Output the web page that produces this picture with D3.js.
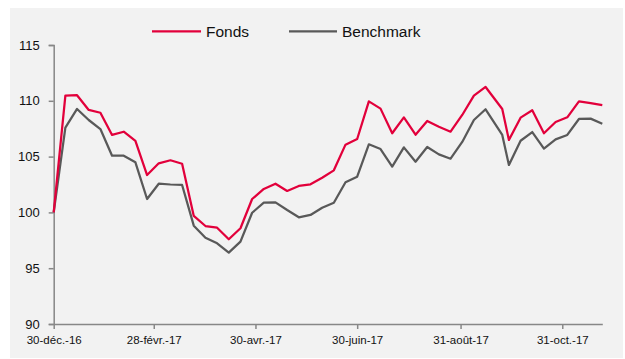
<!DOCTYPE html>
<html>
<head>
<meta charset="utf-8">
<script src="https://cdn.jsdelivr.net/npm/d3@7"></script>
<style>
  html, body { margin: 0; padding: 0; background: #ffffff; }
  svg { display: block; }
</style>
</head>
<body>
<svg id="chart" width="625" height="359"></svg>
<script>
// Weekly index values, base 100 on 30 Dec 2016
const dates = [
  "2016-12-30","2017-01-06","2017-01-13","2017-01-20","2017-01-27",
  "2017-02-03","2017-02-10","2017-02-17","2017-02-24","2017-03-03",
  "2017-03-10","2017-03-17","2017-03-24","2017-03-31","2017-04-07",
  "2017-04-14","2017-04-21","2017-04-28","2017-05-05","2017-05-12",
  "2017-05-19","2017-05-26","2017-06-02","2017-06-09","2017-06-16",
  "2017-06-23","2017-06-30","2017-07-07","2017-07-14","2017-07-21",
  "2017-07-28","2017-08-04","2017-08-11","2017-08-18","2017-08-25",
  "2017-09-01","2017-09-08","2017-09-15","2017-09-25","2017-09-29",
  "2017-10-06","2017-10-13","2017-10-20","2017-10-27","2017-11-03",
  "2017-11-10","2017-11-17","2017-11-24"
];

const fonds = [
  100.00, 110.46, 110.50, 109.18, 108.93,
  106.94, 107.23, 106.40, 103.35, 104.40,
  104.67, 104.36,  99.68,  98.78,  98.63,
   97.59,  98.58, 101.20, 102.10, 102.57,
  101.92, 102.37, 102.52, 103.10, 103.77,
  106.07, 106.58, 109.95, 109.30, 107.09,
  108.52, 106.96, 108.19, 107.68, 107.23,
  108.73, 110.46, 111.24, 109.27, 106.49,
  108.49, 109.15, 107.09, 108.10, 108.52,
  109.95, 109.80, 109.62
];

const benchmark = [
  100.00, 107.60, 109.27, 108.28, 107.47,
  105.08, 105.08, 104.49, 101.20, 102.57,
  102.50, 102.46,  98.81,  97.73,  97.23,
   96.39,  97.38,  99.97, 100.87, 100.90,
  100.21,  99.56,  99.77, 100.42, 100.87,
  102.70, 103.20, 106.10, 105.68, 104.10,
  105.83, 104.54, 105.86, 105.20, 104.81,
  106.31, 108.28, 109.24, 106.94, 104.25,
  106.42, 107.20, 105.71, 106.54, 106.94,
  108.37, 108.40, 107.95
];

const seriesNames = ["Fonds", "Benchmark"];

const xTickDates = ["2016-12-30","2017-02-28","2017-04-30","2017-06-30","2017-08-31","2017-10-31"];
const xTickLabels = ["30-déc.-16","28-févr.-17","30-avr.-17","30-juin-17","31-août-17","31-oct.-17"];
const yTicks = [90, 95, 100, 105, 110, 115];

const parse = d3.utcParse("%Y-%m-%d");
const dateObjs = dates.map(parse);
const tickDateObjs = xTickDates.map(parse);

const svg = d3.select("#chart");
const colors = { "Fonds": "#e2003b", "Benchmark": "#595959" };
const axisColor = "#878787";
const font = "'Liberation Sans', Arial, sans-serif";

// Chart panel background
svg.append("rect")
  .attr("x", 10).attr("y", 8)
  .attr("width", 613).attr("height", 350)
  .attr("fill", "#f2f2f2");

const plot = { left: 53.7, right: 602.3, top: 45, bottom: 324 };

const x = d3.scaleUtc()
  .domain([dateObjs[0], dateObjs[dateObjs.length - 1]])
  .range([plot.left, plot.right]);

const y = d3.scaleLinear()
  .domain([90, 115])
  .range([plot.bottom, plot.top]);

// Y axis
const yAxis = svg.append("g")
  .attr("transform", `translate(${plot.left},0)`)
  .call(d3.axisLeft(y).tickValues(yTicks).tickSize(5).tickPadding(9));
yAxis.select(".domain").attr("stroke", axisColor).attr("stroke-width", 1.5);
yAxis.selectAll(".tick line").attr("stroke", axisColor).attr("stroke-width", 1.5);
yAxis.selectAll(".tick text")
  .attr("fill", "#111111")
  .style("font-family", font)
  .style("font-size", "13px");

// X axis
const xAxis = svg.append("g")
  .attr("transform", `translate(0,${plot.bottom})`)
  .call(d3.axisBottom(x)
    .tickValues(tickDateObjs)
    .tickFormat((d, i) => xTickLabels[i])
    .tickSize(5)
    .tickPadding(7)
    .tickSizeOuter(0));
xAxis.select(".domain").attr("stroke", axisColor).attr("stroke-width", 1.5);
xAxis.selectAll(".tick line").attr("stroke", axisColor).attr("stroke-width", 1.5);
xAxis.selectAll(".tick text")
  .attr("fill", "#111111")
  .style("font-family", font)
  .style("font-size", "11.5px");

// Series lines
const series = [
  { name: seriesNames[0], values: fonds },
  { name: seriesNames[1], values: benchmark }
];

const line = d3.line()
  .x((d, i) => x(dateObjs[i]))
  .y(d => y(d));

// Benchmark underneath, fund on top
[series[1], series[0]].forEach(s => {
  svg.append("path")
    .datum(s.values)
    .attr("fill", "none")
    .attr("stroke", colors[s.name])
    .attr("stroke-width", 2.25)
    .attr("stroke-linejoin", "round")
    .attr("d", line);
});

// Legend
const legendItems = [
  { name: seriesNames[0], x0: 152, x1: 201 },
  { name: seriesNames[1], x0: 289, x1: 337 }
];
const legendY = 31.3;
legendItems.forEach(item => {
  svg.append("line")
    .attr("x1", item.x0).attr("x2", item.x1)
    .attr("y1", legendY).attr("y2", legendY)
    .attr("stroke", colors[item.name])
    .attr("stroke-width", 2.25);
  svg.append("text")
    .attr("x", item.x1 + 5)
    .attr("y", legendY + 5.6)
    .attr("fill", "#111111")
    .style("font-family", font)
    .style("font-size", "15.5px")
    .text(item.name);
});
</script>
</body>
</html>
